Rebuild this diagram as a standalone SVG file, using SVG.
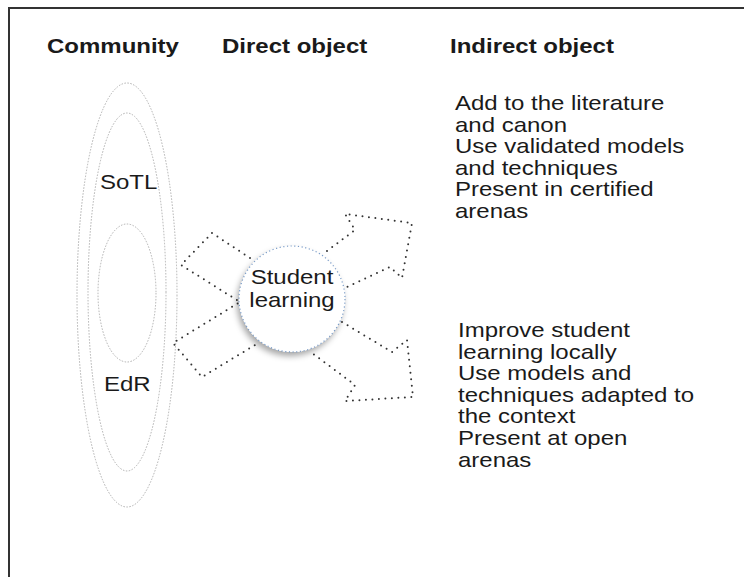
<svg xmlns="http://www.w3.org/2000/svg" width="744" height="577" viewBox="0 0 744 577">
<defs>
<style>
.hdr{font-family:"Liberation Sans",Arial,sans-serif;font-weight:bold;font-size:20px;fill:#1a1a1a}
.txt{font-family:"Liberation Sans",Arial,sans-serif;font-size:20px;fill:#1a1a1a}
.ell{fill:none;stroke:#b0b0b0;stroke-width:1;stroke-dasharray:1.5 1.5}
.arr{fill:none;stroke:#333;stroke-width:2;stroke-dasharray:0 6.5;stroke-linecap:round;stroke-linejoin:round}
</style>
<filter id="sh" x="-30%" y="-30%" width="160%" height="160%">
<feDropShadow dx="-2" dy="4" stdDeviation="3" flood-color="#000" flood-opacity="0.35"/>
</filter>
</defs>
<rect width="744" height="577" fill="#fff"/>
<path d="M9 577 V8 H744" fill="none" stroke="#333" stroke-width="2"/>
<g id="headers">
<text class="hdr" transform="translate(47 53) scale(1.2 1)">Community</text>
<text class="hdr" transform="translate(222 53) scale(1.2 1)">Direct object</text>
<text class="hdr" transform="translate(450 53) scale(1.2 1)">Indirect object</text>
</g>
<g id="community">
<ellipse class="ell" cx="127" cy="295" rx="50" ry="212"/>
<ellipse class="ell" cx="127" cy="292" rx="39" ry="179"/>
<ellipse class="ell" cx="127" cy="293" rx="29" ry="69"/>
<text class="txt" transform="translate(100 189) scale(1.2 1)">SoTL</text>
<text class="txt" transform="translate(104 391) scale(1.2 1)">EdR</text>
</g>
<g id="connectors">
<path class="arr" d="M250 258 L212 233 L181 265 L240 302 L173 343 L202 377 L255 345"/>
<path class="arr" d="M327 251 L355 230 L345 214 L412 223 L402 278 L390 267 L347 287"/>
<path class="arr" d="M342 322 L392 352 L407 340 L413 397 L345 401 L355 385 L312 353"/>
</g>
<g id="student-learning">
<circle cx="292" cy="299" r="53" fill="#fff" filter="url(#sh)"/>
<circle cx="292" cy="299" r="53" fill="#fff" stroke="#7a9cc8" stroke-width="1.2" stroke-dasharray="1.2 2.5"/>
<text class="txt" text-anchor="middle" transform="translate(292 284) scale(1.2 1)">Student</text>
<text class="txt" text-anchor="middle" transform="translate(292 307) scale(1.2 1)">learning</text>
</g>
<g id="indirect-top" transform="translate(455 0) scale(1.2 1)">
<text class="txt" x="0" y="110">Add to the literature</text>
<text class="txt" x="0" y="131.6">and canon</text>
<text class="txt" x="0" y="153.2">Use validated models</text>
<text class="txt" x="0" y="174.8">and techniques</text>
<text class="txt" x="0" y="196.4">Present in certified</text>
<text class="txt" x="0" y="218">arenas</text>
</g>
<g id="indirect-bottom" transform="translate(458 0) scale(1.2 1)">
<text class="txt" x="0" y="337">Improve student</text>
<text class="txt" x="0" y="358.6">learning locally</text>
<text class="txt" x="0" y="380.2">Use models and</text>
<text class="txt" x="0" y="401.8">techniques adapted to</text>
<text class="txt" x="0" y="423.4">the context</text>
<text class="txt" x="0" y="445">Present at open</text>
<text class="txt" x="0" y="466.6">arenas</text>
</g>
</svg>
